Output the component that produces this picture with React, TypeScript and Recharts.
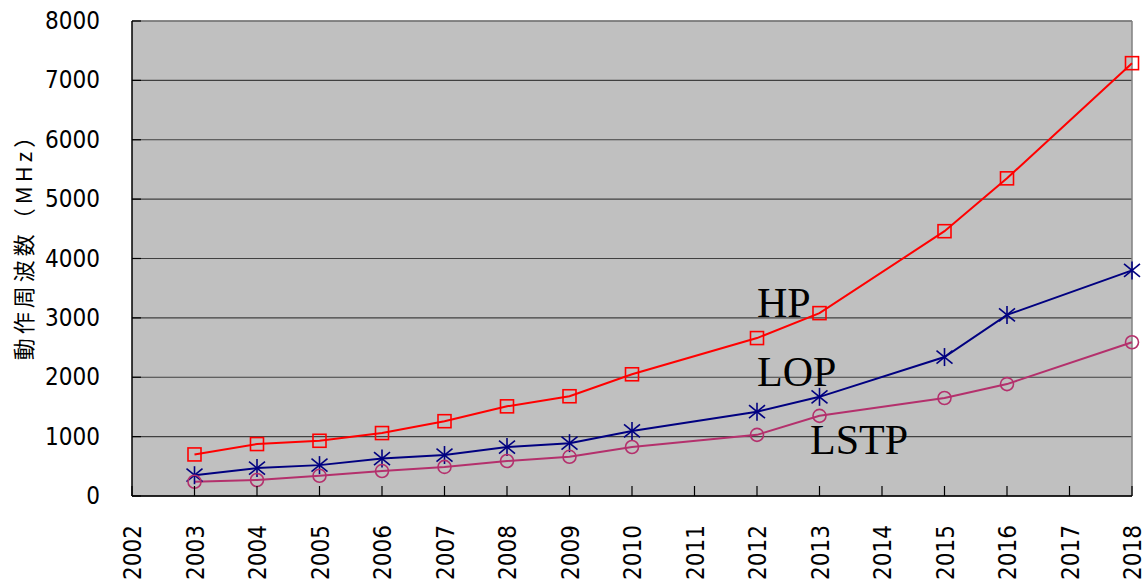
import React from "react"
import { LineChart, Line, XAxis, YAxis, CartesianGrid, ReferenceLine } from "recharts"

// operating frequency (MHz) by year for each transistor type
const years = [2003, 2004, 2005, 2006, 2007, 2008, 2009, 2010, 2012, 2013, 2015, 2016, 2018]
const hp = [700, 875, 930, 1060, 1260, 1510, 1680, 2050, 2660, 3080, 4460, 5350, 7290]
const lop = [350, 470, 520, 630, 690, 825, 890, 1095, 1420, 1670, 2340, 3050, 3800]
const lstp = [240, 270, 340, 420, 490, 590, 660, 825, 1030, 1350, 1650, 1885, 2590]

const xTicks = [2002, 2003, 2004, 2005, 2006, 2007, 2008, 2009, 2010, 2011, 2012, 2013, 2014, 2015, 2016, 2017, 2018]
const yTicks = [0, 1000, 2000, 3000, 4000, 5000, 6000, 7000, 8000]

const data = years.map((year, i) => ({ year, hp: hp[i], lop: lop[i], lstp: lstp[i] }))

const HP_COLOR = "#ff0000"
const LOP_COLOR = "#000080"
const LSTP_COLOR = "#b4306c"
const TICK_FONT = "'DejaVu Sans Condensed', 'Liberation Sans Narrow', sans-serif"

const SquareDot = (props: any) => {
  const { cx, cy } = props
  if (cx == null || cy == null) return null
  return <rect x={cx - 6.5} y={cy - 6.5} width={13} height={13} fill="none" stroke={HP_COLOR} strokeWidth={1.6} />
}

const StarDot = (props: any) => {
  const { cx, cy } = props
  if (cx == null || cy == null) return null
  return (
    <g stroke={LOP_COLOR} strokeWidth={1.6}>
      <line x1={cx} y1={cy - 9} x2={cx} y2={cy + 9} />
      <line x1={cx - 8} y1={cy - 6.5} x2={cx + 8} y2={cy + 6.5} />
      <line x1={cx - 8} y1={cy + 6.5} x2={cx + 8} y2={cy - 6.5} />
    </g>
  )
}

const CircleDot = (props: any) => {
  const { cx, cy } = props
  if (cx == null || cy == null) return null
  return <circle cx={cx} cy={cy} r={6.5} fill="none" stroke={LSTP_COLOR} strokeWidth={1.6} />
}

// year labels are rotated and the tick marks point into the plot
const YearTick = (props: any) => {
  const { x, y, payload } = props
  return (
    <g>
      <line x1={x} y1={y - 10} x2={x} y2={y} stroke="#000" strokeWidth={1.2} />
      <text
        x={x + 1}
        y={y + 29}
        transform={`rotate(-90 ${x + 1} ${y + 29})`}
        textAnchor="end"
        dominantBaseline="central"
        fontFamily={TICK_FONT}
        fontSize={24}
        fill="#000"
      >
        {payload.value}
      </text>
    </g>
  )
}

const ValueTick = (props: any) => {
  const { x, y, payload } = props
  return (
    <g>
      <line x1={x} y1={y} x2={x + 9} y2={y} stroke="#000" strokeWidth={1.2} />
      <text
        x={x - 32}
        y={y}
        textAnchor="end"
        dominantBaseline="central"
        fontFamily={TICK_FONT}
        fontSize={24}
        fill="#000"
      >
        {payload.value}
      </text>
    </g>
  )
}

export default function App() {
  return (
    <div style={{ position: "absolute", left: 0, top: 0, width: 1146, height: 582, background: "#fff", overflow: "hidden" }}>
      <LineChart width={1146} height={582} data={data} margin={{ top: 21, right: 14, bottom: 56, left: 0 }}>
        <CartesianGrid vertical={false} fill="#c0c0c0" stroke="#404040" strokeWidth={1.2} />
        <ReferenceLine y={8000} stroke="#808080" strokeWidth={1.5} />
        <ReferenceLine x={2018} stroke="#808080" strokeWidth={1.5} />
        <XAxis
          dataKey="year"
          type="number"
          domain={[2002, 2018]}
          ticks={xTicks}
          interval={0}
          height={30}
          tickSize={0}
          tickMargin={0}
          tickLine={false}
          axisLine={{ stroke: "#000", strokeWidth: 1.5 }}
          tick={<YearTick />}
        />
        <YAxis
          width={132}
          domain={[0, 8000]}
          ticks={yTicks}
          interval={0}
          tickSize={0}
          tickMargin={0}
          tickLine={false}
          axisLine={{ stroke: "#000", strokeWidth: 1.5 }}
          tick={<ValueTick />}
        />
        <Line dataKey="hp" stroke={HP_COLOR} strokeWidth={2} dot={<SquareDot />} activeDot={false} isAnimationActive={false} />
        <Line dataKey="lop" stroke={LOP_COLOR} strokeWidth={2} dot={<StarDot />} activeDot={false} isAnimationActive={false} />
        <Line dataKey="lstp" stroke={LSTP_COLOR} strokeWidth={2} dot={<CircleDot />} activeDot={false} isAnimationActive={false} />
      </LineChart>
      <svg
        width={1146}
        height={582}
        style={{ position: "absolute", left: 0, top: 0, pointerEvents: "none" }}
      >
        <text
          x={22}
          y={241}
          transform="rotate(-90 22 241)"
          textAnchor="middle"
          dominantBaseline="central"
          fontFamily="'Noto Sans CJK JP', sans-serif"
          fontSize={22}
          letterSpacing={4}
          fill="#000"
        >
          動作周波数（MHz）
        </text>
        <g fontFamily="'Liberation Serif', 'Times New Roman', serif" fontSize={42} fill="#000">
          <text x={757} y={317}>HP</text>
          <text x={757} y={386}>LOP</text>
          <text x={810} y={454}>LSTP</text>
        </g>
      </svg>
    </div>
  )
}
